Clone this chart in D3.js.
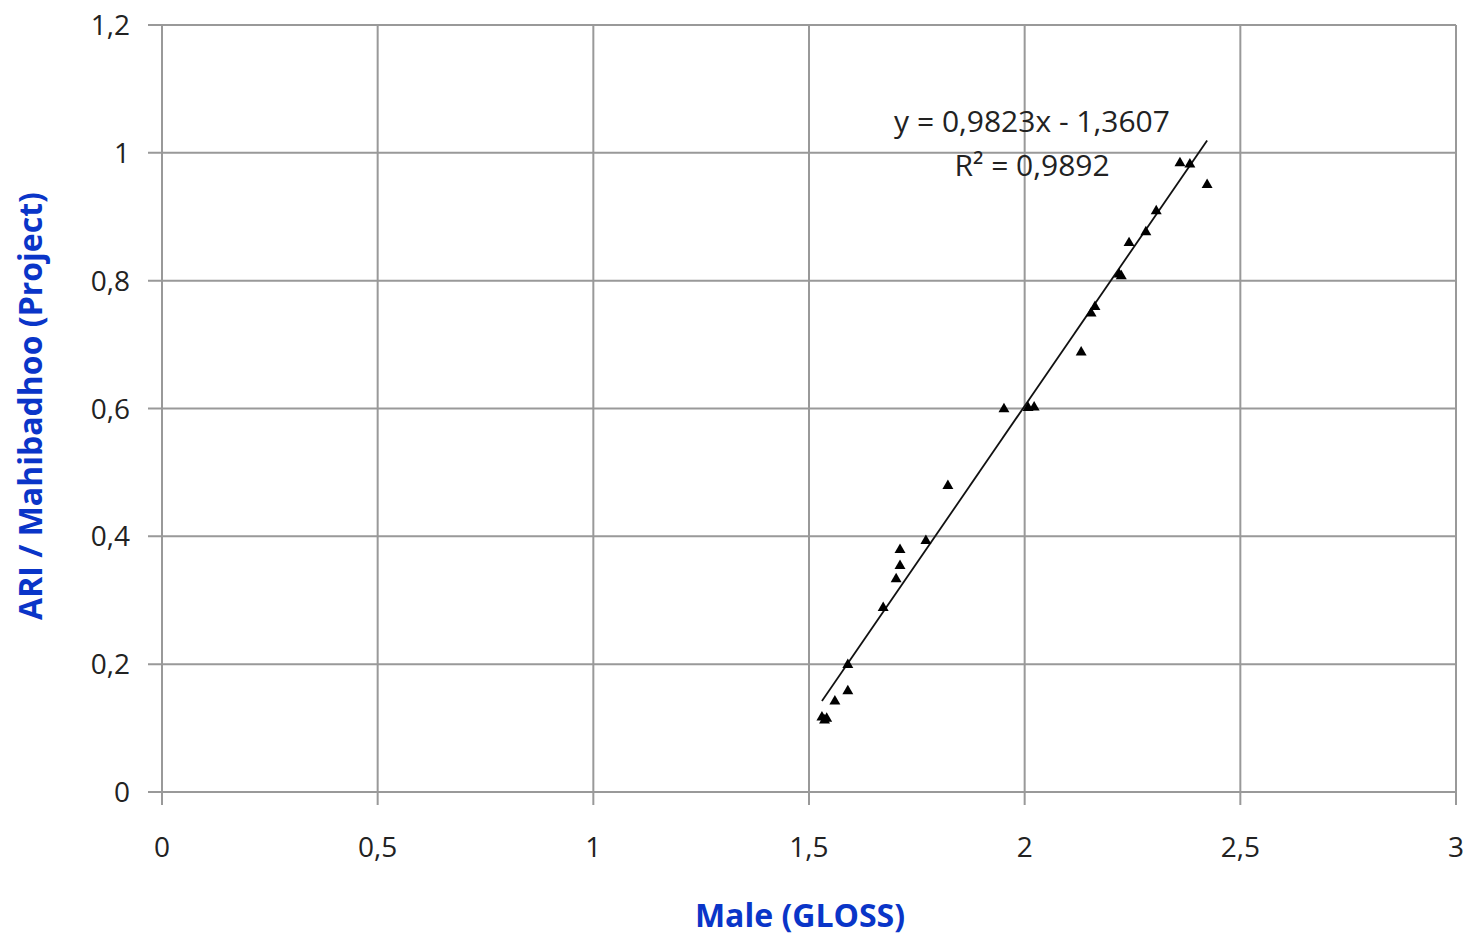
<!DOCTYPE html>
<html><head><meta charset="utf-8">
<script src="https://cdn.jsdelivr.net/npm/d3@7"></script>
<style>body{margin:0;background:#fff;} svg{display:block;}</style>
</head><body>
<svg id="c" width="1470" height="936"></svg>
<script>
const xValues = [1.530,1.536,1.541,1.560,1.590,1.590,1.672,1.702,1.711,1.711,1.771,1.822,1.952,2.008,2.022,2.131,2.154,2.163,2.219,2.224,2.242,2.281,2.305,2.360,2.383,2.423];
const yValues = [0.117,0.112,0.115,0.142,0.158,0.199,0.288,0.333,0.354,0.379,0.393,0.479,0.599,0.601,0.602,0.688,0.749,0.759,0.810,0.807,0.859,0.876,0.909,0.984,0.982,0.950];
const xTicks = [0,0.5,1,1.5,2,2.5,3];
const yTicks = [0,0.2,0.4,0.6,0.8,1,1.2];
const trendSlope = 0.9823, trendIntercept = -1.3607;
const eqLabel = "y = 0,9823x - 1,3607";
const r2Label = "R² = 0,9892";
const xTitle = "Male (GLOSS)";
const yTitle = "ARI / Mahibadhoo (Project)";

const svg = d3.select("#c");
const L=162, R=1456, T=25, B=792;
const x = d3.scaleLinear().domain([0,3]).range([L,R]);
const y = d3.scaleLinear().domain([0,1.2]).range([B,T]);
const fmt = v => String(v).replace(".", ",");
const grid = "#999";

svg.append("g").selectAll("line").data(xTicks).join("line")
  .attr("x1",d=>x(d)).attr("x2",d=>x(d)).attr("y1",T).attr("y2",B+13)
  .attr("stroke",grid).attr("stroke-width",2);
svg.append("g").selectAll("line").data(yTicks).join("line")
  .attr("x1",L-14).attr("x2",R).attr("y1",d=>y(d)).attr("y2",d=>y(d))
  .attr("stroke",grid).attr("stroke-width",2);

const font = "'Open Sans', 'Liberation Sans', sans-serif";
svg.append("g").selectAll("text").data(xTicks).join("text")
  .attr("x",d=>x(d)).attr("y",B+65).attr("text-anchor","middle")
  .attr("font-family",font).attr("font-size",28).attr("fill","#222").text(fmt);
svg.append("g").selectAll("text").data(yTicks).join("text")
  .attr("x",L-32).attr("y",d=>y(d)+10).attr("text-anchor","end")
  .attr("font-family",font).attr("font-size",28).attr("fill","#222").text(fmt);

const xmin = d3.min(xValues), xmax = d3.max(xValues);
svg.append("line")
  .attr("x1",x(xmin)).attr("y1",y(trendSlope*xmin+trendIntercept))
  .attr("x2",x(xmax)).attr("y2",y(trendSlope*xmax+trendIntercept))
  .attr("stroke","#111").attr("stroke-width",1.8);

const tri = d3.symbol().type(d3.symbolTriangle).size(52);
svg.append("g").selectAll("path").data(xValues.map((v,i)=>[v,yValues[i]])).join("path")
  .attr("d",tri).attr("transform",d=>`translate(${x(d[0])},${y(d[1])})`).attr("fill","#000");

svg.append("text").attr("x",1032).attr("y",132).attr("text-anchor","middle")
  .attr("font-family",font).attr("font-size",30).attr("fill","#222").text(eqLabel);
svg.append("text").attr("x",1032).attr("y",176).attr("text-anchor","middle")
  .attr("font-family",font).attr("font-size",30).attr("fill","#222").text(r2Label);

svg.append("text").attr("x",800).attr("y",927).attr("text-anchor","middle")
  .attr("font-family",font).attr("font-weight","bold").attr("font-size",32).attr("fill","#0a35c8").text(xTitle);
svg.append("text").attr("transform","translate(42,406) rotate(-90)").attr("text-anchor","middle")
  .attr("font-family",font).attr("font-weight","bold").attr("font-size",32).attr("fill","#0a35c8").text(yTitle);
</script>
</body></html>
